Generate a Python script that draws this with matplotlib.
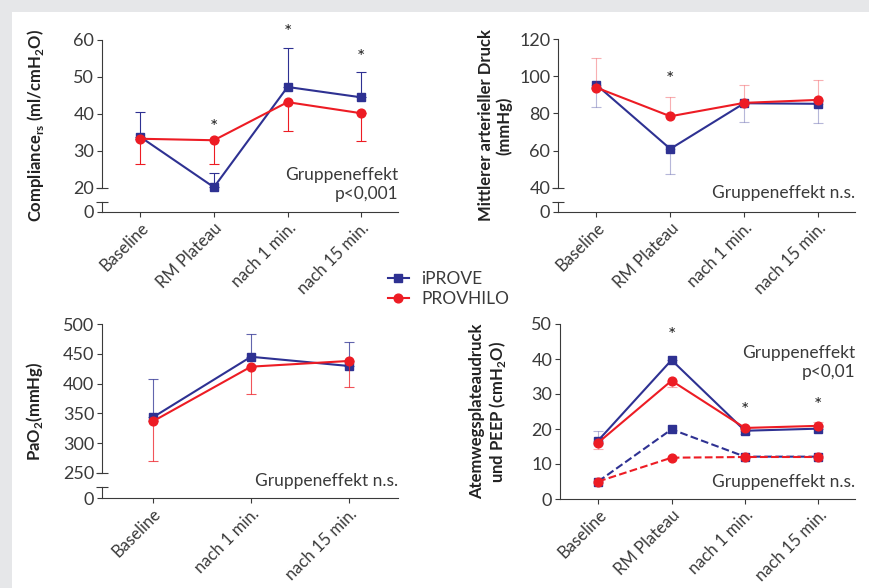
import matplotlib

matplotlib.use("Agg")

import matplotlib.pyplot as plt
import numpy as np
from matplotlib.lines import Line2D
from matplotlib.patches import Rectangle


BLUE = "#2e3192"
RED = "#ed1c24"
DARK = "#3a3a3a"

plt.rcParams["font.family"] = ["Lato", "DejaVu Sans"]
plt.rcParams["mathtext.fontset"] = "custom"
plt.rcParams["mathtext.rm"] = "Lato"
plt.rcParams["mathtext.bf"] = "Lato:bold"


# categories
cats4 = ["Baseline", "RM Plateau", "nach 1 min.", "nach 15 min."]
cats3 = ["Baseline", "nach 1 min.", "nach 15 min."]

# Compliance rs (ml/cmH2O)
comp_iprove = [33.8, 20.2, 47.3, 44.5]
comp_iprove_bar = [40.4, 24.0, 57.9, 51.3]
comp_provhilo = [33.3, 32.9, 43.2, 40.2]
comp_provhilo_bar = [26.4, 26.4, 35.4, 32.6]
comp_stars = [None, 36.3, 62.0, 55.2]

# mittlerer arterieller Druck (mmHg)
map_iprove = [95.4, 61.0, 85.5, 85.2]
map_iprove_bar = [83.4, 47.5, 75.3, 74.8]
map_provhilo = [93.9, 78.5, 85.7, 87.3]
map_provhilo_bar = [109.7, 88.9, 95.5, 98.2]
map_stars = [None, 98.5, None, None]

# PaO2 (mmHg)
pao2_iprove = [343.5, 445.0, 429.5]
pao2_iprove_bar = [408.0, 483.7, 469.8]
pao2_provhilo = [336.7, 428.4, 438.0]
pao2_provhilo_bar = [270.0, 382.0, 394.3]

# Atemwegsplateaudruck und PEEP (cmH2O)
plat_iprove = [16.7, 39.7, 19.5, 20.1]
plat_iprove_bar = [19.5, 39.7, 18.7, 20.1]
plat_provhilo = [16.1, 33.8, 20.3, 20.9]
plat_provhilo_bar = [14.2, 31.9, 20.3, 22.0]
peep_iprove = [5.0, 19.9, 12.1, 12.1]
peep_provhilo = [5.0, 11.8, 12.0, 12.0]
plat_stars = [None, 46.8, 25.3, 26.8]



def _axes(fig, left, top, right, bottom):

    W, H = 870, 588

    return fig.add_axes([
        left / W,
        1 - bottom / H,
        (right - left) / W,
        (bottom - top) / H,
    ])



def _series(ax, mean, bar_end, color, marker, ms, ls="-", err_alpha=1.0, z=3):

    x = np.arange(len(mean))
    mean = np.asarray(mean)

    if bar_end is not None:
        bar_end = np.asarray(bar_end)
        lo = np.clip(mean - bar_end, 0, None)
        hi = np.clip(bar_end - mean, 0, None)
        ax.errorbar(
            x, mean,
            yerr=[lo, hi],
            fmt="none",
            ecolor=color,
            elinewidth=0.8,
            capsize=3.6,
            capthick=0.8,
            alpha=err_alpha,
            zorder=z - 1,
        )

    ax.plot(
        x, mean,
        color=color,
        marker=marker,
        ms=ms,
        lw=1.5,
        ls=ls,
        zorder=z,
        clip_on=False,
    )



def _style(ax, cats, yticks, ylim, ylabel, label_x, broken=None):

    n = len(cats)

    ax.set_xlim(-0.52, n - 0.5)
    ax.set_ylim(*ylim)

    for s in ["top", "right"]:
        ax.spines[s].set_visible(False)

    for s in ["left", "bottom"]:
        ax.spines[s].set_color(DARK)
        ax.spines[s].set_linewidth(0.8)

    ax.set_xticks(range(n))
    ax.set_xticklabels(
        cats,
        rotation=45,
        ha="right",
        rotation_mode="anchor",
        fontsize=12,
        color=DARK,
    )

    labels = [str(t) for t in yticks]

    if broken is not None:
        y_zero, y_gap = broken
        ax.spines["left"].set_bounds(yticks[0], yticks[-1])
        tr = ax.get_yaxis_transform()
        ax.plot([0, 0], [y_zero, y_gap], color=DARK, lw=0.8,
                transform=tr, clip_on=False)
        ax.plot([0, 0], [yticks[0], y_gap], color=DARK, ls="none",
                marker="_", ms=9, mew=0.8, transform=tr, clip_on=False)
        yticks = [y_zero] + list(yticks)
        labels = ["0"] + labels

    ax.set_yticks(yticks)
    ax.set_yticklabels(labels, fontsize=13, color=DARK)

    ax.tick_params(length=3.6, width=0.8, color=DARK, pad=2)

    ax.set_ylabel(ylabel, fontsize=12, fontweight="bold",
                  color="#222222", linespacing=1.1)
    ax.yaxis.set_label_coords(label_x, 0.5)

    ax.patch.set_alpha(0)



def _stars(ax, ys):

    for i, y in enumerate(ys):
        if y is None:
            continue
        ax.text(i, y, "*", ha="center", va="center",
                fontsize=14, color="#222222", clip_on=False)



def _note(ax, y, text):

    ax.text(1.0, y, text, transform=ax.transAxes, ha="right",
            va="center", fontsize=12.5, color=DARK, linespacing=1.25)



fig = plt.figure(figsize=(8.7, 5.88), dpi=100)
fig.patch.set_facecolor("#e6e7e9")

bg = fig.add_axes([12 / 870, 0, 1 - 12 / 870, 1 - 12 / 588], zorder=-10)
bg.set_axis_off()
bg.add_patch(Rectangle((0, 0), 1, 1, transform=bg.transAxes,
                       facecolor="white", edgecolor="none"))


# compliance
ax1 = _axes(fig, 102, 40, 398, 212)
_series(ax1, comp_iprove, comp_iprove_bar, BLUE, "s", 6.2)
_series(ax1, comp_provhilo, comp_provhilo_bar, RED, "o", 6.3, z=4)
_style(ax1, cats4, [20, 30, 40, 50, 60], (13.5, 60),
       r"Compliance$_{\mathregular{rs}}$ (ml/cmH$_{\mathregular{2}}$O)",
       -0.19, broken=(13.5, 16.2))
_stars(ax1, comp_stars)
_note(ax1, 0.16, "Gruppeneffekt\np<0,001")


# mittlerer arterieller Druck
ax2 = _axes(fig, 558, 39, 855, 212)
_series(ax2, map_iprove, map_iprove_bar, BLUE, "s", 6.2, err_alpha=0.35)
_series(ax2, map_provhilo, map_provhilo_bar, RED, "o", 6.3,
        err_alpha=0.35, z=4)
_style(ax2, cats4, [40, 60, 80, 100, 120], (27.1, 120),
       "Mittlerer arterieller Druck\n(mmHg)", -0.155, broken=(27.1, 32.5))
_stars(ax2, map_stars)
_note(ax2, 0.11, "Gruppeneffekt n.s.")


# PaO2
ax3 = _axes(fig, 102, 324, 398, 498)
_series(ax3, pao2_iprove, pao2_iprove_bar, BLUE, "s", 6.2, err_alpha=0.75)
_series(ax3, pao2_provhilo, pao2_provhilo_bar, RED, "o", 6.3,
        err_alpha=0.75, z=4)
_style(ax3, cats3, [250, 300, 350, 400, 450, 500], (208, 500),
       r"PaO$_{\mathregular{2}}$(mmHg)", -0.193, broken=(208, 226.5))
_note(ax3, 0.095, "Gruppeneffekt n.s.")


# Plateaudruck und PEEP
ax4 = _axes(fig, 560, 324, 855, 499)
_series(ax4, plat_iprove, plat_iprove_bar, BLUE, "s", 6.2, err_alpha=0.35)
_series(ax4, plat_provhilo, plat_provhilo_bar, RED, "o", 6.3,
        err_alpha=0.35, z=4)
_series(ax4, peep_iprove, None, BLUE, "s", 6.2, ls="--")
_series(ax4, peep_provhilo, None, RED, "o", 6.3, ls="--", z=4)
_style(ax4, cats4, [0, 10, 20, 30, 40, 50], (0, 50),
       "Atemwegsplateaudruck\n" r"und PEEP (cmH$_{\mathregular{2}}$O)",
       -0.176)
_stars(ax4, plat_stars)
_note(ax4, 0.78, "Gruppeneffekt\np<0,01")
_note(ax4, 0.10, "Gruppeneffekt n.s.")


handles = [
    Line2D([], [], color=BLUE, marker="s", ms=6.2, lw=1.5),
    Line2D([], [], color=RED, marker="o", ms=6.3, lw=1.5),
]

fig.legend(
    handles,
    ["iPROVE", "PROVHILO"],
    loc="center left",
    bbox_to_anchor=(388 / 870, 1 - 289 / 588),
    frameon=False,
    fontsize=12.5,
    handlelength=1.2,
    handletextpad=0.7,
    labelspacing=0.25,
    borderpad=0,
    borderaxespad=0,
    labelcolor=DARK,
)


plt.savefig("out.png", dpi=100, facecolor=fig.get_facecolor())

plt.close()
